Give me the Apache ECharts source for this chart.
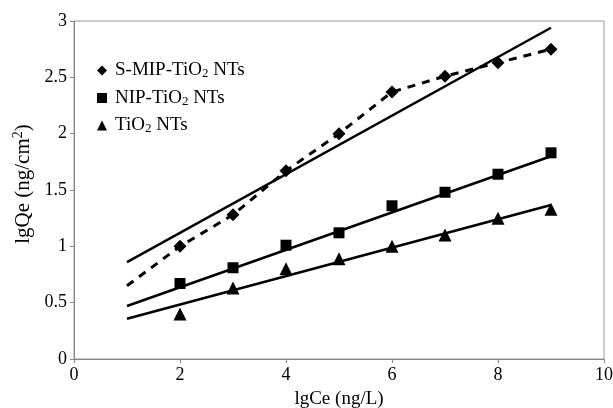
<!DOCTYPE html>
<html>
<head>
<meta charset="utf-8">
<script src="https://cdn.jsdelivr.net/npm/echarts@6/dist/echarts.min.js"></script>
<style>
  html, body { margin: 0; padding: 0; background: #fff; }
  #chart { width: 613px; height: 408px; }
</style>
</head>
<body>
<div id="chart"></div>
<script>
// measured points (lgCe, lgQe)
const xValues = [2, 3, 4, 5, 6, 7, 8, 9]
const smipValues = [1.0, 1.28, 1.67, 2.0, 2.37, 2.51, 2.63, 2.75]
const nipValues = [0.67, 0.81, 1.01, 1.12, 1.36, 1.48, 1.64, 1.83]
const tioValues = [0.40, 0.63, 0.80, 0.89, 1.0, 1.10, 1.25, 1.33]

// dashed curve through the S-MIP points (starts at lgCe = 1)
const smipCurveX = [1, 2, 3, 4, 5, 6, 7, 8, 9]
const smipCurveY = [0.65, 1.0, 1.28, 1.67, 2.0, 2.37, 2.51, 2.63, 2.75]

// fitted straight lines, endpoints at lgCe = 1 and 9
const fitX = [1, 9]
const smipFit = [0.86, 2.94]
const nipFit = [0.47, 1.80]
const tioFit = [0.357, 1.367]

const seriesNames = ['S-MIP-TiO2 NTs', 'NIP-TiO2 NTs', 'TiO2 NTs']
const legendLabels = {
  'S-MIP-TiO2 NTs': 'S-MIP-TiO{sub|2} NTs',
  'NIP-TiO2 NTs': 'NIP-TiO{sub|2} NTs',
  'TiO2 NTs': 'TiO{sub|2} NTs',
}

const pairs = (xs, ys) => xs.map((x, i) => [x, ys[i]])
const serif = '"Liberation Serif", "DejaVu Serif", serif'

const fitLine = (data, dashed) => ({
  type: 'line',
  data,
  symbol: 'none',
  silent: true,
  lineStyle: {
    color: '#000',
    width: dashed ? 3 : 2.5,
    type: dashed ? [8, 7] : 'solid',
  },
  z: 1,
})

const scatter = (name, data, symbol, size) => ({
  name,
  type: 'scatter',
  data,
  symbol,
  symbolSize: size,
  itemStyle: { color: '#000', opacity: 1 },
  z: 3,
})

const chart = echarts.init(document.getElementById('chart'))

chart.setOption({
  backgroundColor: '#fff',
  animation: false,
  grid: {
    left: 74,
    right: 9,
    top: 21,
    bottom: 49,
    outerBoundsMode: 'none',
    show: true,
    borderColor: '#999',
    borderWidth: 1,
  },
  legend: {
    data: seriesNames,
    orient: 'vertical',
    left: 92,
    top: 56,
    itemGap: 8,
    itemWidth: 10,
    itemHeight: 10,
    formatter: name => legendLabels[name],
    textStyle: {
      fontFamily: serif,
      fontSize: 19,
      color: '#000',
      padding: [0, 0, 0, 3],
      rich: {
        sub: { fontFamily: serif, fontSize: 13, color: '#000', verticalAlign: 'bottom', padding: [7, 0, 0, 0] },
      },
    },
  },
  xAxis: {
    type: 'value',
    min: 0,
    max: 10,
    interval: 2,
    name: 'lgCe (ng/L)',
    nameLocation: 'middle',
    nameGap: 31,
    nameTextStyle: { fontFamily: serif, fontSize: 19, color: '#000' },
    axisLine: { lineStyle: { color: '#888' } },
    axisTick: { show: true, length: 4, lineStyle: { color: '#888' } },
    axisLabel: { fontFamily: serif, fontSize: 18, color: '#000', margin: 7 },
    splitLine: { show: false },
  },
  yAxis: {
    type: 'value',
    min: 0,
    max: 3,
    interval: 0.5,
    name: 'lgQe (ng/cm{sup|2})',
    nameLocation: 'middle',
    nameGap: 36,
    nameTextStyle: {
      fontFamily: serif,
      fontSize: 21,
      color: '#000',
      padding: [0, 0, 0, 12],
      rich: {
        sup: { fontFamily: serif, fontSize: 14, color: '#000', verticalAlign: 'top', padding: [0, 0, 10, 0] },
      },
    },
    axisLine: { show: true, lineStyle: { color: '#888' } },
    axisTick: { show: true, length: 4, lineStyle: { color: '#888' } },
    axisLabel: { fontFamily: serif, fontSize: 18, color: '#000', margin: 7 },
    splitLine: { show: false },
  },
  series: [
    fitLine(pairs(smipCurveX, smipCurveY), true),
    fitLine(pairs(fitX, smipFit), false),
    fitLine(pairs(fitX, nipFit), false),
    fitLine(pairs(fitX, tioFit), false),
    scatter(seriesNames[0], pairs(xValues, smipValues), 'diamond', 13),
    scatter(seriesNames[1], pairs(xValues, nipValues), 'rect', 11),
    scatter(seriesNames[2], pairs(xValues, tioValues), 'triangle', 13),
  ],
})

window.addEventListener('resize', () => chart.resize())
</script>
</body>
</html>
